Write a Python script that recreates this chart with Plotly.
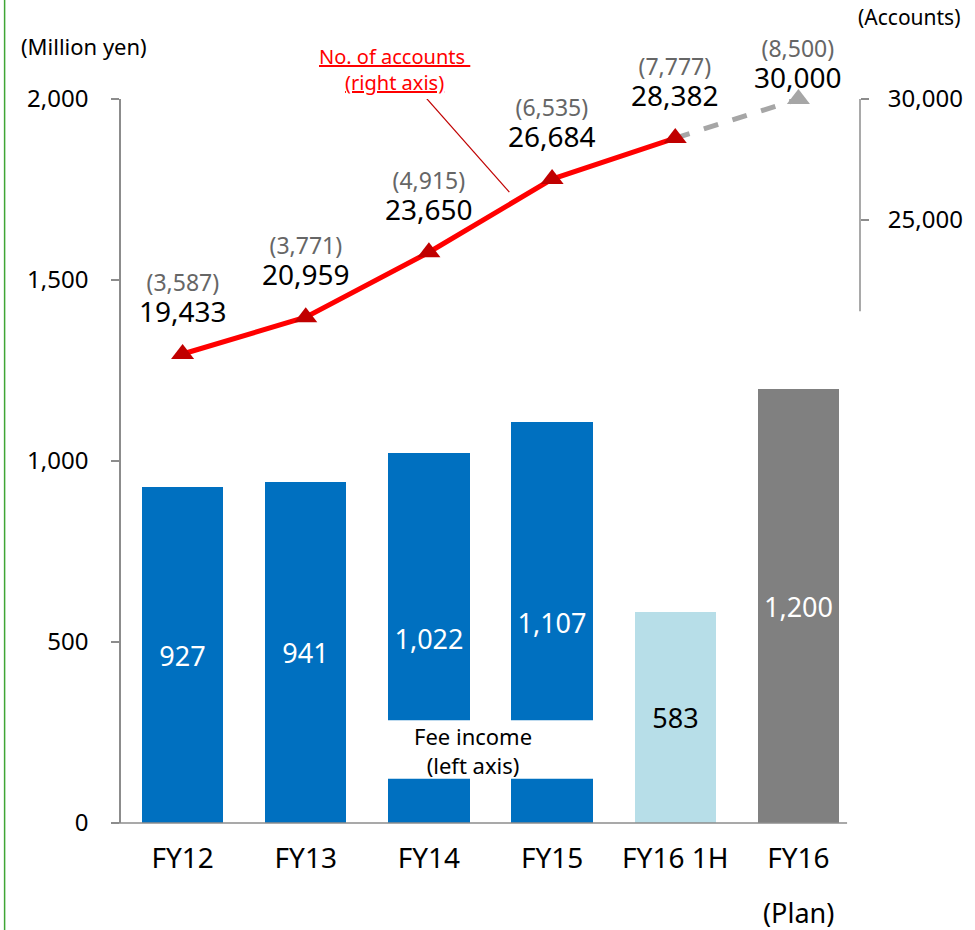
import plotly.graph_objects as go

# ---------------- data ----------------
categories = ["FY12", "FY13", "FY14", "FY15", "FY16 1H", "FY16"]
fee_income = [927, 941, 1022, 1107, 583, 1200]          # Million yen (left axis)
accounts = [19433, 20959, 23650, 26684, 28382, 30000]   # No. of accounts (right axis)
accounts_sub = [3587, 3771, 4915, 6535, 7777, 8500]     # figures in parentheses
left_ticks = [0, 500, 1000, 1500, 2000]
right_ticks = [25000, 30000]

FONT = "Noto Sans"
BLUE = "#0070C0"
LIGHT = "#B7DEE8"
GRAY = "#808080"
AXIS = "#8C8C8C"

x = list(range(len(categories)))
bar_colors = [BLUE, BLUE, BLUE, BLUE, LIGHT, GRAY]
text_colors = ["white", "white", "white", "white", "black", "white"]

fig = go.Figure()

fig.add_trace(go.Bar(
    x=x, y=fee_income, width=0.66,
    marker=dict(color=bar_colors, line=dict(width=0)),
    text=[f"{v:,}" for v in fee_income],
    textposition="inside", insidetextanchor="middle",
    textfont=dict(family=FONT, size=27, color=text_colors),
    hoverinfo="skip", showlegend=False,
))

# actual accounts (red)
fig.add_trace(go.Scatter(
    x=x[:5], y=accounts[:5], yaxis="y2", mode="lines",
    line=dict(color="#FF0000", width=5), showlegend=False, hoverinfo="skip",
))
# plan segment (gray dashed)
fig.add_trace(go.Scatter(
    x=x[4:], y=accounts[4:], yaxis="y2", mode="lines", cliponaxis=False,
    line=dict(color="#A6A6A6", width=5, dash="dash"), showlegend=False, hoverinfo="skip",
))
fig.add_trace(go.Scatter(
    x=x[:5], y=accounts[:5], yaxis="y2", mode="markers", cliponaxis=False,
    marker=dict(symbol="triangle-up", size=20, color="#C00000"),
    showlegend=False, hoverinfo="skip",
))
fig.add_trace(go.Scatter(
    x=x[5:], y=accounts[5:], yaxis="y2", mode="markers", cliponaxis=False,
    marker=dict(symbol="triangle-up", size=20, color="#A6A6A6"),
    showlegend=False, hoverinfo="skip",
))

annotations = []
for i, (a, s) in enumerate(zip(accounts, accounts_sub)):
    plan = i == len(accounts) - 1
    annotations.append(dict(
        x=i, y=a, xref="x", yref="y2", showarrow=False, yanchor="middle",
        text=(f"<span style='font-size:23px;color:#666666'>({s:,})</span><br>"
              f"<span style='font-size:28px'>{a:,}</span>"),
        yshift=35 if plan else 56,
        font=dict(family=FONT, size=24, color="black"),
    ))

annotations += [
    dict(x=-0.1575, y=1.073, xref="paper", yref="paper", xanchor="left", yanchor="middle",
         xshift=14, text="(Million yen)", showarrow=False,
         font=dict(family=FONT, size=22, color="black")),
    dict(x=1.0, y=1.113, xref="paper", yref="paper", xanchor="left", yanchor="middle",
         xshift=-4, text="(Accounts)", showarrow=False,
         font=dict(family=FONT, size=21, color="black")),
    dict(x=1.72, y=1.0, xref="x", yref="paper", yanchor="middle", yshift=30,
         text="<u>No. of accounts </u><br><u>(right axis)</u>", showarrow=False,
         font=dict(family=FONT, size=20, color="#FF0000")),
    dict(x=2.36, y=200, xref="x", yref="y", yanchor="middle",
         text="Fee income<br>(left axis)", showarrow=False,
         font=dict(family=FONT, size=22, color="black")),
    dict(x=5, y=-0.123, xref="x", yref="paper", yanchor="middle",
         text="(Plan)", showarrow=False, font=dict(family=FONT, size=27, color="black")),
]

shapes = [
    # white break box over FY14/FY15 bars
    dict(type="rect", xref="x", yref="y", x0=1.6, x1=3.4, y0=122, y1=284,
         fillcolor="white", line=dict(width=0), layer="above"),
    # leader line
    dict(type="line", xref="x", yref="y2", x0=1.976, y0=30050, x1=2.653, y1=26141,
         line=dict(color="#C00000", width=1.2)),
    # right axis line (partial)
    dict(type="line", xref="paper", yref="y2", x0=1.0, x1=1.0, y0=21200, y1=30000,
         line=dict(color=AXIS, width=1.5)),
    # x axis line
    dict(type="line", xref="paper", yref="paper", x0=-0.0108, x1=0.9825, y0=0, y1=0,
         line=dict(color=AXIS, width=1.5)),
    # green frame line at left edge
    dict(type="line", xref="paper", yref="paper", x0=-0.1575, x1=-0.1575, y0=-0.15, y1=1.15,
         line=dict(color="#3FA535", width=1.5)),
]

fig.update_layout(
    width=975, height=930,
    margin=dict(l=121, r=111, t=99, b=107),
    paper_bgcolor="white", plot_bgcolor="white",
    font=dict(family=FONT, color="black"),
    bargap=0,
    xaxis=dict(
        range=[-0.5, 5.5], tickvals=x, ticktext=categories[:5] + ["FY16"],
        ticks="", showline=False, showgrid=False, zeroline=False,
        tickfont=dict(family=FONT, size=28, color="black"),
        ticklabelstandoff=16,
    ),
    xaxis2=dict(
        range=[-0.5, 5.5], overlaying="x", anchor="y", side="bottom",
        tickvals=[v - 0.5 for v in x[:6]], ticks="outside", ticklen=9, tickwidth=1.5,
        tickcolor=AXIS, showticklabels=False, showgrid=False, zeroline=False, showline=False,
    ),
    yaxis=dict(
        range=[0, 2000], tickvals=left_ticks, ticktext=[f"{v:,}" for v in left_ticks],
        ticks="outside", ticklen=8, tickwidth=1.5, tickcolor=AXIS,
        showline=True, linecolor=AXIS, linewidth=1.5,
        showgrid=False, zeroline=False, ticklabelstandoff=18,
        tickfont=dict(family=FONT, size=24, color="black"),
    ),
    yaxis2=dict(
        range=[0, 30000], overlaying="y", side="right", anchor="x",
        tickvals=right_ticks, ticktext=[f"{v:,}" for v in right_ticks],
        ticks="outside", ticklen=8, tickwidth=1.5, tickcolor=AXIS,
        showline=False, showgrid=False, zeroline=False, ticklabelstandoff=14,
        tickfont=dict(family=FONT, size=24, color="black"),
    ),
    annotations=annotations,
    shapes=shapes,
)

fig.write_html(
    "out.html",
    config={"displayModeBar": False},
    post_script="document.body.style.margin='0';document.body.style.overflow='hidden';",
)
